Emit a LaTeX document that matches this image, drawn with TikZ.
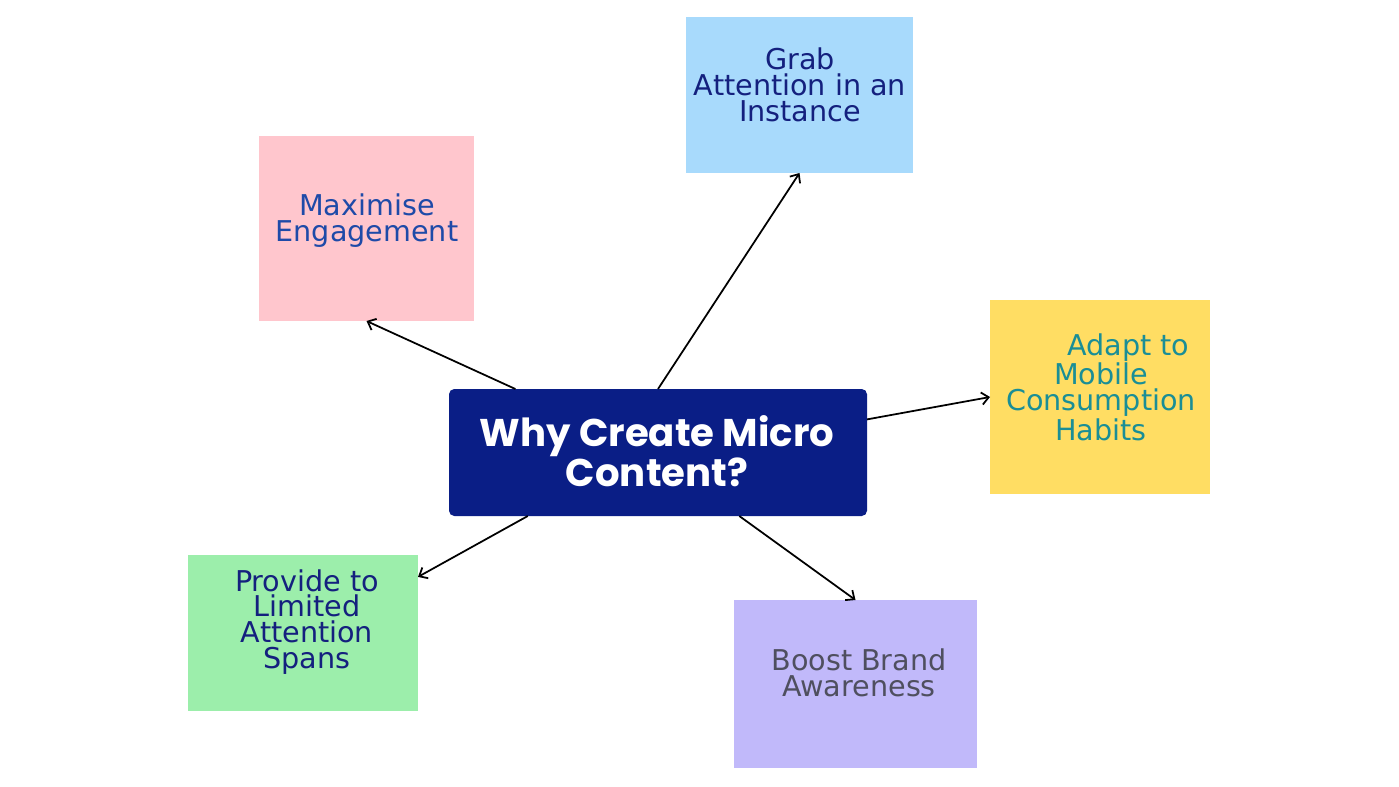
\documentclass[tikz,border=0pt]{standalone}
\usepackage{fontspec}
\usepackage{tikz}
\usetikzlibrary{arrows.meta}
\usetikzlibrary{positioning}
\setmainfont{DejaVu Sans}
\newfontfamily\headfont{Poppins}
\definecolor{navybox}{HTML}{0A1E86}
\definecolor{pinkbox}{HTML}{FFC6CD}
\definecolor{bluebox}{HTML}{A8DAFC}
\definecolor{yellowbox}{HTML}{FFDD63}
\definecolor{purplebox}{HTML}{C1B9FA}
\definecolor{greenbox}{HTML}{9CEEAB}
\definecolor{bluetext}{HTML}{1E4AA8}
\definecolor{navytext}{HTML}{14207E}
\definecolor{tealtext}{HTML}{1A8E96}
\definecolor{graytext}{HTML}{4F4F5F}

\begin{document}
\begin{tikzpicture}[x=0.02cm, y=-0.02cm]
            \tikzset{every node/.style={inner sep=0pt, outer sep=0pt},
                    >={Straight Barb[length=4pt, width=7pt]},
                    every edge/.style={draw=black, line width=1pt},
                    card/.style={rectangle, anchor=north west},
                    cardtext/.style={align=center, font=\fontsize{16.3}{14.7}\selectfont}}
            \useasboundingbox (0,0) rectangle (1399,787);
            \node[rectangle, rounded corners=3pt, fill=navybox, minimum width=418*0.02cm, minimum height=127*0.02cm] (0) at (658,452.5) {};
            \node[align=center, text=white, font=\headfont\bfseries\fontsize{22}{21}\selectfont] (0t) at (657,451) {Why Create Micro\\Content?};
            \node[card, fill=pinkbox, minimum width=215*0.02cm, minimum height=185*0.02cm] (1) at (259,136) {};
            \node[cardtext, text=bluetext] (1t) at (367,221) {Maximise\\Engagement};
            \node[card, fill=bluebox, minimum width=227*0.02cm, minimum height=156*0.02cm] (2) at (686,17) {};
            \node[cardtext, text=navytext] (2t) at (800,85) {Grab\\Attention in an\\Instance};
            \node[card, fill=yellowbox, minimum width=220*0.02cm, minimum height=194*0.02cm] (3) at (990,300) {};
            \node[cardtext, text=tealtext] (3t) at (1101,387) {\hspace*{1.9em}Adapt to\\Mobile\\Consumption\\Habits};
            \node[card, fill=purplebox, minimum width=243*0.02cm, minimum height=168*0.02cm] (4) at (734,600) {};
            \node[cardtext, text=graytext] (4t) at (859,673) {Boost Brand\\Awareness};
            \node[card, fill=greenbox, minimum width=230*0.02cm, minimum height=156*0.02cm] (5) at (188,555) {};
            \node[cardtext, text=navytext] (5t) at (307,622) {Provide to\\Limited\\Attention\\Spans};
            \path [->] (0.156) edge (1.south);
            \path [->] (0.90) edge (2.south);
            \path [->] (0.9.6) edge (3.west);
            \path [->] (0.206.5) edge (5.26.8);
            \path [->] (0.322.5) edge (4.north);
        \end{tikzpicture}
\end{document}
